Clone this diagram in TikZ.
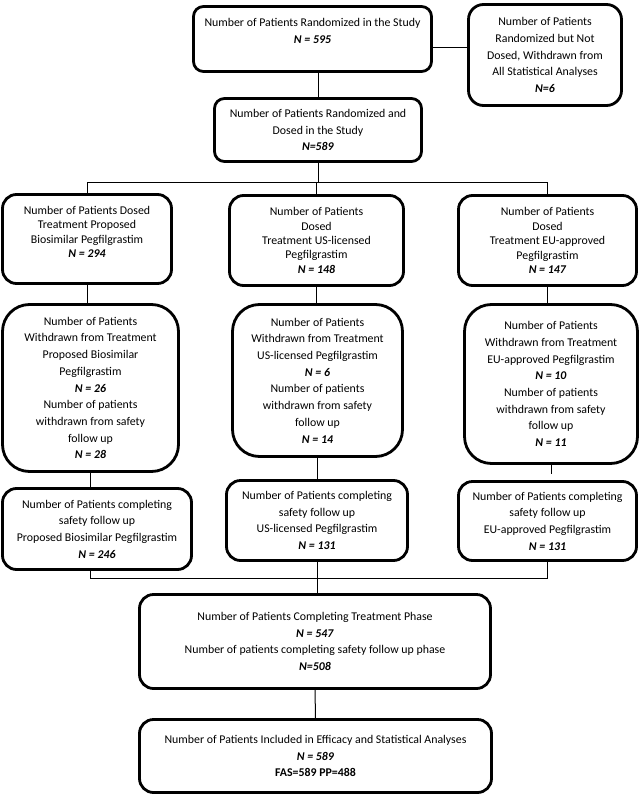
\documentclass[tikz,border=0pt]{standalone}
\usepackage{fontspec}
\setmainfont{Carlito}
\newcommand{\nbi}[1]{\textbf{\textit{#1}}}
\begin{document}
\begin{tikzpicture}[x=1pt,y=-1pt,
  box/.style={draw, line width=2.8pt, rounded corners=#1, align=center,
    inner sep=0pt, outer sep=0pt, font=\fontsize{11.85}{16.7}\selectfont},
  box/.default=12pt,
  tight/.style={font=\fontsize{11.85}{14.4}\selectfont},
  conn/.style={line width=1pt}]
\useasboundingbox (0,0) rectangle (640,797);
% top
\node[box=10pt, minimum width=238, minimum height=65] (A) at (312.5,39)
  {Number of Patients Randomized in the Study\\ \nbi{N = 595}\\ \mbox{}};
\node[box=15pt, minimum width=153, minimum height=101] (B) at (545,55)
  {Number of Patients\\ Randomized but Not\\ Dosed, Withdrawn from\\ All Statistical Analyses\\ \nbi{N=6}};
\node[box=10pt, minimum width=207, minimum height=63] (C) at (318,130)
  {Number of Patients Randomized and\\ Dosed in the Study\\ \nbi{N=589}};
% row 2
\node[box=14pt, tight, minimum width=169, minimum height=89] (L) at (87,239)
  {Number of Patients Dosed\\ Treatment Proposed\\ Biosimilar Pegfilgrastim\\ \nbi{N = 294}\\ \mbox{}};
\node[box=14pt, tight, minimum width=174, minimum height=90] (M) at (316.5,240.5)
  {Number of Patients\\ Dosed\\ Treatment US-licensed\\ Pegfilgrastim\\ \nbi{N = 148}};
\node[box=14pt, tight, minimum width=178, minimum height=90] (R) at (547.5,240.5)
  {Number of Patients\\ Dosed\\ Treatment EU-approved\\ Pegfilgrastim\\ \nbi{N = 147}};
% row 3
\node[box=27pt, minimum width=176, minimum height=167] (LW) at (90.5,388)
  {Number of Patients\\ Withdrawn from Treatment\\ Proposed Biosimilar\\ Pegfilgrastim\\ \nbi{N = 26}\\
   Number of patients\\ withdrawn from safety\\ follow up\\ \nbi{N = 28}};
\node[box=27pt, minimum width=170, minimum height=152] (MW) at (317.5,380.5)
  {Number of Patients\\ Withdrawn from Treatment\\ US-licensed Pegfilgrastim\\ \nbi{N = 6}\\
   Number of patients\\ withdrawn from safety\\ follow up\\ \nbi{N = 14}};
\node[box=27pt, minimum width=173, minimum height=159] (RW) at (551,384)
  {Number of Patients\\ Withdrawn from Treatment\\ EU-approved Pegfilgrastim\\ \nbi{N = 10}\\
   Number of patients\\ withdrawn from safety\\ follow up\\ \nbi{N = 11}};
% row 4
\node[box=14pt, minimum width=189, minimum height=81] (LC) at (97,529)
  {Number of Patients completing\\ safety follow up\\ Proposed Biosimilar Pegfilgrastim\\ \nbi{N = 246}};
\node[box=14pt, minimum width=181, minimum height=80] (MC) at (317,520.5)
  {Number of Patients completing\\ safety follow up\\ US-licensed Pegfilgrastim\\ \nbi{N = 131}};
\node[box=14pt, minimum width=178, minimum height=79] (RC) at (547.5,521)
  {Number of Patients completing\\ safety follow up\\ EU-approved Pegfilgrastim\\ \nbi{N = 131}};
% bottom
\node[box=14pt, minimum width=351, minimum height=94] (D) at (315,641.5)
  {Number of Patients Completing Treatment Phase\\ \nbi{N = 547}\\ Number of patients completing safety follow up phase\\ \nbi{N=508}};
\node[box=14pt, minimum width=352, minimum height=73] (E) at (315.5,756)
  {Number of Patients Included in Efficacy and Statistical Analyses\\ \nbi{N = 589}\\ \textbf{FAS=589 PP=488}};
% connectors
\coordinate (ab) at (450,48);
\draw[conn] (A.east |- ab) -- (B.west |- ab);
\draw[conn] (A.south -| C.north) -- (C.north);
\coordinate (br) at (0,182);
\draw[conn] (C.south) -- (C.south |- br);
\draw[conn] (L.north) -- (L.north |- br) -- (R.north |- br) -- (R.north);
\draw[conn] (M.north) -- (M.north |- br);
\draw[conn] (L.south) -- (LW.north -| L.south);
\draw[conn] (M.south) -- (MW.north -| M.south);
\draw[conn] (R.south) -- (RW.north -| R.south);
\draw[conn] (LW.south) -- (LC.north -| LW.south);
\draw[conn] (MW.south) -- (MC.north -| MW.south);
\coordinate (rs) at (0,474);
\draw[conn] (RW.south) -- (RW.south |- rs);
\coordinate (mg) at (0,578);
\draw[conn] (LC.south -| LW.south) -- (LW.south |- mg) -- (RC.south |- mg) -- (RC.south);
\draw[conn] (MC.south) -- (D.north -| MC.south);
\draw[conn] (D.south) -- (E.north);
\end{tikzpicture}
\end{document}
